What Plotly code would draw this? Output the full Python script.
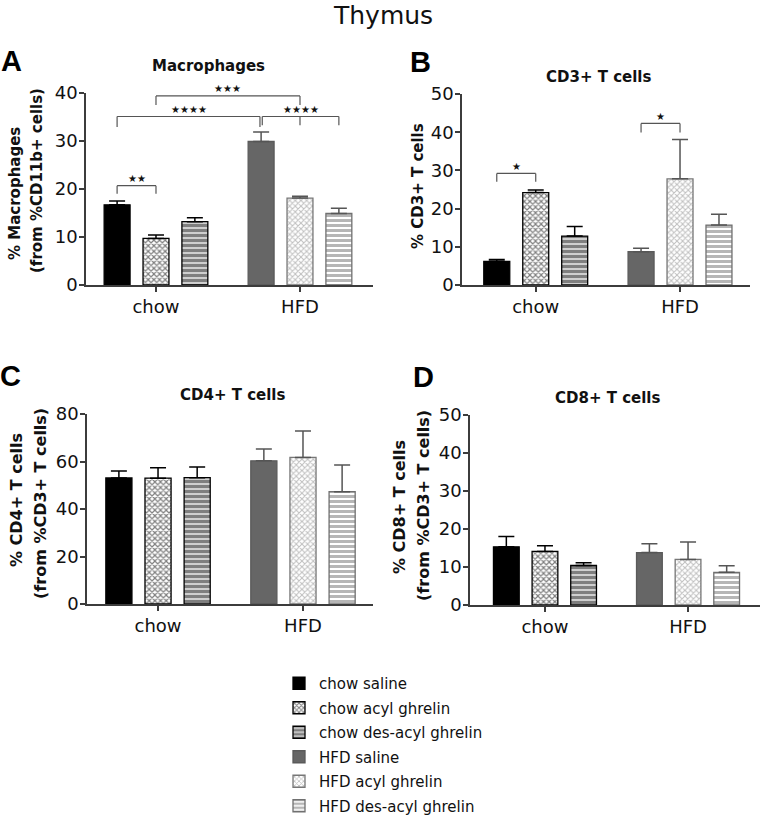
import plotly.graph_objects as go

# ---------------- data ----------------
groups = ["chow", "HFD"]
series = ["chow saline", "chow acyl ghrelin", "chow des-acyl ghrelin",
          "HFD saline", "HFD acyl ghrelin", "HFD des-acyl ghrelin"]
series_group = ["chow", "chow", "chow", "HFD", "HFD", "HFD"]

mac_mean = [16.7, 9.7, 13.2, 29.9, 18.1, 14.9]
mac_sem = [0.8, 0.7, 0.8, 2.0, 0.4, 1.1]
cd3_mean = [6.2, 24.2, 12.8, 8.7, 27.8, 15.7]
cd3_sem = [0.5, 0.7, 2.5, 0.9, 10.3, 2.8]
cd4_mean = [53.1, 53.0, 53.2, 60.3, 61.7, 47.3]
cd4_sem = [2.9, 4.4, 4.5, 5.0, 11.1, 11.2]
cd8_mean = [15.3, 14.1, 10.4, 13.8, 12.0, 8.6]
cd8_sem = [2.7, 1.5, 0.7, 2.3, 4.6, 1.7]

panel_titles = ["Macrophages", "CD3+ T cells", "CD4+ T cells", "CD8+ T cells"]
panel_letters = ["A", "B", "C", "D"]
y_title_1 = ["% Macrophages", "% CD3+ T cells", "% CD4+ T cells", "% CD8+ T cells"]
y_title_2 = ["(from %CD11b+ cells)", None, "(from %CD3+ T cells)", "(from %CD3+ T cells)"]
y_max = [40, 50, 80, 50]
y_dtick = [10, 10, 20, 10]

# significance brackets: (series indices with drops, bar level, tip level, label)
mac_sig = [([0, 1], 20.7, 19.0, "★★"),
           ([0, 3], 35.1, 32.9, "★★★★"),
           ([3, 4, 5], 35.1, 33.3, "★★★★"),
           ([1, 4], 39.4, 37.5, "★★★")]
cd3_sig = [([0, 1], 29.2, 27.0, "★"),
           ([3, 4], 42.3, 39.9, "★")]
cd4_sig = []
cd8_sig = []

means = [mac_mean, cd3_mean, cd4_mean, cd8_mean]
sems = [mac_sem, cd3_sem, cd4_sem, cd8_sem]
sigs = [mac_sig, cd3_sig, cd4_sig, cd8_sig]

# ---------------- styles ----------------
W, H = 762, 815
bw = 0.18
pos_off = [-0.27, 0.0, 0.27]

styles = [
    dict(color="#000000", line="#000000", err="#000000", pattern=None),
    dict(color="#ffffff", line="#000000", err="#000000",
         pattern=dict(shape="x", fgcolor="#000000", bgcolor="#ffffff", size=4, solidity=0.5)),
    dict(color="#ffffff", line="#000000", err="#000000",
         pattern=dict(shape="-", fgcolor="#000000", bgcolor="#ffffff", size=5, solidity=0.75)),
    dict(color="#666666", line="#5a5a5a", err="#555555", pattern=None),
    dict(color="#ffffff", line="#777777", err="#555555",
         pattern=dict(shape="x", fgcolor="#808080", bgcolor="#ffffff", size=4, solidity=0.45)),
    dict(color="#ffffff", line="#707070", err="#555555",
         pattern=dict(shape="-", fgcolor="#6e6e6e", bgcolor="#ffffff", size=5, solidity=0.6)),
]

# panel geometry in page pixels: x-left, x-right, y-top, y-bottom, category range
panels = [
    dict(x0=86, x1=373, yt=93, yb=285, rng=[-0.486, 1.507]),
    dict(x0=462, x1=750, yt=94, yb=285, rng=[-0.511, 1.485]),
    dict(x0=87, x1=373, yt=414, yb=604, rng=[-0.49, 1.483]),
    dict(x0=470, x1=760, yt=415, yb=605, rng=[-0.524, 1.503]),
]


def px(x):
    return x / W


def py(y):
    return 1 - y / H


fig = go.Figure()
annotations = []
shapes = []

axis_col = "#3c3c3c"
tick_font = dict(family="DejaVu Sans", size=18, color="#111111")
cat_font = dict(family="DejaVu Sans", size=18, color="#111111")

for p in range(4):
    k = "" if p == 0 else str(p + 1)
    xa, ya = "x" + k, "y" + k
    for i in range(6):
        st = styles[i]
        marker = dict(color=st["color"], line=dict(color=st["line"], width=1.3))
        if st["pattern"] is not None:
            marker["pattern"] = st["pattern"]
        fig.add_trace(go.Bar(
            x=[series_group[i]], y=[means[p][i]],
            offset=pos_off[i % 3] - bw / 2, width=bw,
            marker=marker,
            error_y=dict(type="data", array=[sems[p][i]], arrayminus=[0],
                         symmetric=False, color=st["err"], thickness=1.5, width=8),
            name=series[i], legendgroup=series[i], showlegend=(p == 0),
            xaxis=xa, yaxis=ya, cliponaxis=False, hoverinfo="skip",
        ))
    g = panels[p]
    fig.layout["xaxis" + k] = dict(
        domain=[px(g["x0"]), px(g["x1"])], anchor=ya, type="category",
        categoryorder="array", categoryarray=groups, range=g["rng"],
        showline=True, linecolor=axis_col, linewidth=1.5,
        ticks="outside", ticklen=5, tickcolor=axis_col, tickwidth=1.5,
        tickfont=cat_font, showgrid=False, zeroline=False, fixedrange=True,
        automargin=False)
    fig.layout["yaxis" + k] = dict(
        domain=[py(g["yb"]), py(g["yt"])], anchor=xa,
        range=[0, y_max[p]], dtick=y_dtick[p], tick0=0,
        showline=True, linecolor=axis_col, linewidth=1.5,
        ticks="outside", ticklen=5, tickcolor=axis_col, tickwidth=1.5,
        tickfont=tick_font, showgrid=False, zeroline=False, fixedrange=True,
        ticklabelstandoff=-2, automargin=False)

    # significance brackets
    for idxs, lev, tip, lab in sigs[p]:
        xs = [groups.index(series_group[j]) + pos_off[j % 3] for j in idxs]
        # small nudge where two brackets meet at the same bar
        if p == 0 and idxs == [0, 3]:
            xs[-1] -= 0.008
        if p == 0 and idxs == [3, 4, 5]:
            xs[0] += 0.008
        line = dict(color="#555555", width=1.2)
        shapes.append(dict(type="line", xref=xa, yref=ya, x0=xs[0], x1=xs[-1],
                           y0=lev, y1=lev, line=line))
        for xv in xs:
            shapes.append(dict(type="line", xref=xa, yref=ya, x0=xv, x1=xv,
                               y0=tip, y1=lev, line=line))
        annotations.append(dict(xref=xa, yref=ya, x=(xs[0] + xs[-1]) / 2, y=lev,
                                text=lab, showarrow=False, yanchor="middle", yshift=7,
                                font=dict(family="DejaVu Sans", size=10, color="#111111")))

# panel titles
title_pos = [(208, 66), (598, 77), (233, 395), (607, 398)]
for p in range(4):
    annotations.append(dict(xref="paper", yref="paper", x=px(title_pos[p][0]), y=py(title_pos[p][1]),
                            text="<b>%s</b>" % panel_titles[p], showarrow=False,
                            xanchor="center", yanchor="middle",
                            font=dict(family="DejaVu Sans", size=15, color="#111111")))

# panel letters
letter_pos = [(11, 61), (420, 62), (10, 376), (423, 377)]
for p in range(4):
    annotations.append(dict(xref="paper", yref="paper", x=px(letter_pos[p][0]), y=py(letter_pos[p][1]),
                            text="<b>%s</b>" % panel_letters[p], showarrow=False,
                            xanchor="center", yanchor="middle",
                            font=dict(family="Liberation Sans Narrow, Liberation Sans", size=29, color="#000000")))

# y-axis titles (rotated)
yt1_pos = [(15, 194, 15), (418, 186, 15), (16, 500, 16), (400, 507, 16)]
yt2_pos = [(37, 181, 15), None, (40, 504, 16), (423, 506, 16)]
for p in range(4):
    x, y, s = yt1_pos[p]
    annotations.append(dict(xref="paper", yref="paper", x=px(x), y=py(y),
                            text="<b>%s</b>" % y_title_1[p], showarrow=False, textangle=-90,
                            xanchor="center", yanchor="middle",
                            font=dict(family="DejaVu Sans", size=s, color="#111111")))
    if y_title_2[p] is not None:
        x, y, s = yt2_pos[p]
        annotations.append(dict(xref="paper", yref="paper", x=px(x), y=py(y),
                                text="<b>%s</b>" % y_title_2[p], showarrow=False, textangle=-90,
                                xanchor="center", yanchor="middle",
                                font=dict(family="DejaVu Sans", size=s, color="#111111")))

# main title
annotations.append(dict(xref="paper", yref="paper", x=px(383), y=py(15),
                        text="Thymus", showarrow=False, xanchor="center", yanchor="middle",
                        font=dict(family="DejaVu Sans", size=25, color="#111111")))

fig.update_layout(
    width=W, height=H, margin=dict(l=0, r=0, t=0, b=0, autoexpand=False),
    paper_bgcolor="white", plot_bgcolor="white",
    barmode="overlay", showlegend=True, hovermode=False,
    legend=dict(x=px(279), y=py(667), xanchor="left", yanchor="top",
                traceorder="grouped", tracegroupgap=2,
                font=dict(family="DejaVu Sans", size=15, color="#111111"),
                bgcolor="rgba(0,0,0,0)"),
    annotations=annotations, shapes=shapes,
)

# remove the default page margin so the figure sits at the window's top-left corner
fig.write_html("out.html", config={"displayModeBar": False},
               post_script="document.body.style.margin='0';document.body.style.overflow='hidden';")
